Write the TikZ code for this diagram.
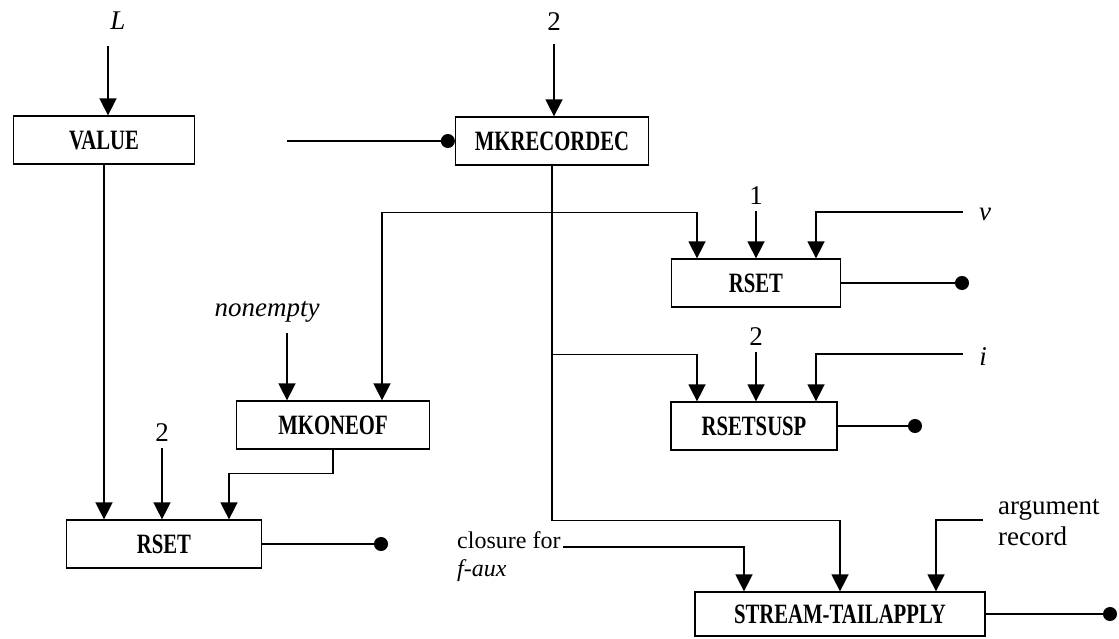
\documentclass[tikz,border=0pt]{standalone}
\usepackage{fontspec}
\setmainfont{Liberation Serif}
\usetikzlibrary{arrows.meta}
\newcommand{\boxtxt}[1]{\scalebox{0.74}[1]{#1}}

\begin{document}
\begin{tikzpicture}[x=1pt, y=-1pt]
	\tikzstyle{unit} = [rectangle, draw=black, line width=1.3pt, minimum height=48pt, inner sep=0pt, font=\fontsize{28}{28}\selectfont\bfseries]
	\tikzstyle{lbl} = [inner sep=0pt, font=\fontsize{27}{31}\selectfont]
	\tikzstyle{feed} = [-{Triangle[width=17pt,length=17pt]}, line width=1.6pt]
	\tikzstyle{wire} = [line width=1.6pt]
	\tikzstyle{sink} = [-{Circle[length=14pt]}, line width=1.6pt]
	\useasboundingbox (0,0) rectangle (1119,638);
	% operation boxes
	\node[unit, minimum width=181pt](value) at (104,140){\boxtxt{VALUE}};
	\node[unit, minimum width=193pt](mkrec) at (552,141){\boxtxt{MKRECORDEC}};
	\node[unit, minimum width=169pt](rsetv) at (756,283){\boxtxt{RSET}};
	\node[unit, minimum width=166pt](rsetsusp) at (754,426){\boxtxt{RSETSUSP}};
	\node[unit, minimum width=193pt](mkoneof) at (333,425){\boxtxt{MKONEOF}};
	\node[unit, minimum width=195pt](rsetl) at (164,544){\boxtxt{RSET}};
	\node[unit, minimum width=290pt, minimum height=44pt](stail) at (840,614){\boxtxt{STREAM-TAILAPPLY}};
	% inputs
	\node[lbl, font=\fontsize{27}{31}\selectfont\itshape](L) at (118,21){L};
	\node[lbl](two) at (554,22){2};
	\node[lbl](one) at (756,196){1};
	\node[lbl](twob) at (756,337){2};
	\node[lbl](twoc) at (162,433){2};
	\node[lbl, font=\fontsize{27}{31}\selectfont\itshape](nonempty) at (267,312){nonempty};
	\node[lbl, font=\fontsize{27}{31}\selectfont\itshape](vin) at (985,214){v};
	\node[lbl, font=\fontsize{27}{31}\selectfont\itshape](iin) at (983,357){i};
	\node[lbl, anchor=west, align=left, font=\fontsize{24}{28}\selectfont](closure) at (457,557){closure for\\\textit{f-aux}};
	\node[lbl, anchor=west, align=left](argrec) at (998,523){argument\\record};
	\coordinate (mkin) at (287,141);
	\coordinate (vend) at (963,212);
	\coordinate (iend) at (963,354);
	\coordinate (closend) at (563,547);
	\coordinate (argend) at (983,520);
	\coordinate (fork1) at ([yshift=-47pt]mkrec.south);
	\coordinate (fork2) at ([yshift=-189pt]mkrec.south);
	\coordinate (dotv) at (969,283);
	\coordinate (dotsusp) at (922,426);
	\coordinate (dotl) at (388,544);
	\coordinate (dott) at (1117,614);
	% connectors
	\draw[feed] ([xshift=-10pt,yshift=-16pt]L.south) -- ([xshift=-10pt]L.south |- value.north);
	\draw[feed] ([yshift=-13pt]two.south) -- (two.south |- mkrec.north);
	\draw[wire, -{Circle[length=14pt]}] (mkin) -- (mkrec.west);
	\draw[feed] (value.south) -- (value.south |- rsetl.north);
	\draw[feed] (mkrec.south) -- ++(0,355) -| (stail.north);
	\draw[feed] (fork1) -| ([xshift=-59pt]rsetv.north);
	\draw[feed] (fork1) -| ([xshift=49pt]mkoneof.north);
	\draw[feed] (fork2) -| ([xshift=-57pt]rsetsusp.north);
	\draw[feed] ([yshift=-6pt]one.south) -- (one.south |- rsetv.north);
	\draw[feed] (vend) -| ([xshift=60pt]rsetv.north);
	\draw[feed] ([yshift=-6pt]twob.south) -- (twob.south |- rsetsusp.north);
	\draw[feed] (iend) -| ([xshift=62pt]rsetsusp.north);
	\draw[feed] ([xshift=20pt,yshift=-10pt]nonempty.south) -- ([xshift=-46pt]mkoneof.north);
	\draw[feed] ([yshift=-6pt]twoc.south) -- (twoc.south |- rsetl.north);
	\draw[feed] (mkoneof.south) -- ++(0,24) -| ([xshift=65pt]rsetl.north);
	\draw[feed] (closend) -| ([xshift=-96pt]stail.north);
	\draw[feed] (argend) -| ([xshift=96pt]stail.north);
	% outputs
	\draw[sink] (rsetv.east) -- (dotv);
	\draw[sink] (rsetsusp.east) -- (dotsusp);
	\draw[sink] (rsetl.east) -- (dotl);
	\draw[sink] (stail.east) -- (dott);
\end{tikzpicture}
\end{document}
